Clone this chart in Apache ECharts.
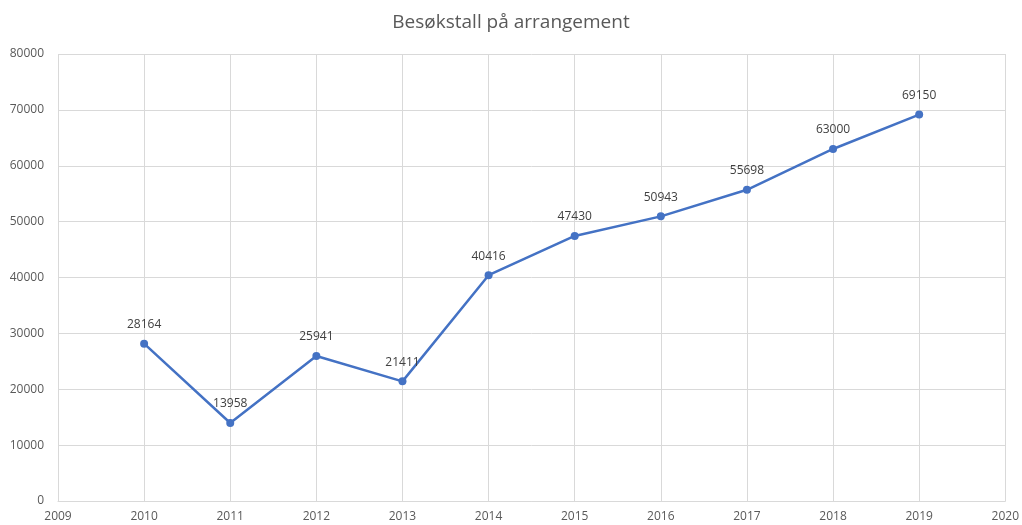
<!DOCTYPE html>
<html>
<head>
<meta charset="utf-8">
<script src="https://cdn.jsdelivr.net/npm/echarts@6/dist/echarts.min.js"></script>
<style>
  html, body { margin: 0; padding: 0; background: #fff; }
  #chart { width: 1022px; height: 525px; }
</style>
</head>
<body>
<div id="chart"></div>
<script>
// data
const years = [2010, 2011, 2012, 2013, 2014, 2015, 2016, 2017, 2018, 2019];
const visitors = [28164, 13958, 25941, 21411, 40416, 47430, 50943, 55698, 63000, 69150];

const chart = echarts.init(document.getElementById('chart'));
const textColor = '#595959';
const font = '"Open Sans", "Liberation Sans", sans-serif';

chart.setOption({
    animation: false,
    title: {
        text: 'Besøkstall på arrangement',
        left: 'center',
        top: 8,
        textStyle: { color: textColor, fontSize: 19, fontWeight: 'normal', fontFamily: font }
    },
    grid: { left: 58, right: 15, top: 54, bottom: 24, containLabel: false },
    xAxis: {
        type: 'value',
        min: 2009,
        max: 2020,
        interval: 1,
        axisLine: { show: true, lineStyle: { color: '#d9d9d9' } },
        axisTick: { show: false },
        axisLabel: { color: textColor, fontSize: 12, fontFamily: font, margin: 10, formatter: v => String(v) },
        splitLine: { show: true, lineStyle: { color: '#d9d9d9' } }
    },
    yAxis: {
        type: 'value',
        min: 0,
        max: 80000,
        interval: 10000,
        axisLine: { show: false },
        axisTick: { show: false },
        axisLabel: { color: textColor, fontSize: 12, fontFamily: font, margin: 14, formatter: v => String(v) },
        splitLine: { show: true, lineStyle: { color: '#d9d9d9' } }
    },
    series: [{
        type: 'line',
        data: years.map((y, i) => [y, visitors[i]]),
        symbol: 'circle',
        symbolSize: 8,
        lineStyle: { color: '#4472C4', width: 2.5 },
        itemStyle: { color: '#4472C4' },
        label: {
            show: true,
            position: 'top',
            distance: 9,
            color: '#404040',
            fontSize: 12,
            fontFamily: font,
            formatter: p => p.value[1]
        }
    }]
});
</script>
</body>
</html>
